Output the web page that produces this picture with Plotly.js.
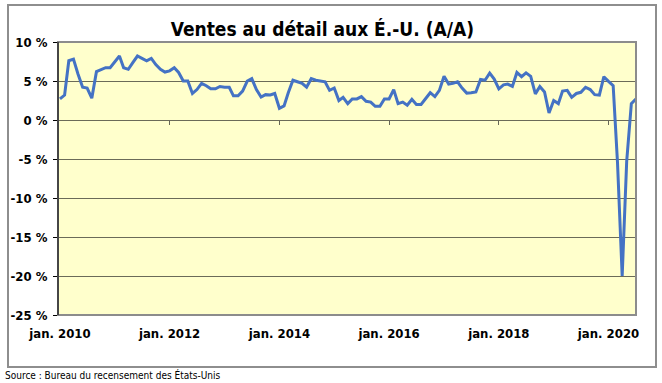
<!DOCTYPE html>
<html>
<head>
<meta charset="utf-8">
<script src="https://cdn.plot.ly/plotly-3.0.1.min.js"></script>
<style>
  html, body { margin: 0; padding: 0; background: #ffffff; }
  #wrap { position: relative; width: 662px; height: 383px; overflow: hidden; }
  #frame { position: absolute; left: 7px; top: 4px; width: 646px; height: 360px; border: 2px solid #8e8e8e; pointer-events: none; }
  #chart { position: absolute; left: 0; top: 0; width: 662px; height: 383px; }
</style>
</head>
<body>
<div id="wrap">
  <div id="frame"></div>
  <div id="chart"></div>
</div>
<script>
// ---- data ----
const startYear = 2010;
const startMonth = 1;
const retailYoY = [
  2.7, 3.2, 7.6, 7.8, 5.9, 4.2, 4.1, 2.8, 6.2, 6.4, 6.7, 6.7,
  7.4, 8.2, 6.7, 6.5, 7.35, 8.2, 7.9, 7.6, 7.9, 7.1, 6.5, 6.15,
  6.3, 6.7, 6.1, 5.0, 5.0, 3.4, 3.9, 4.7, 4.4, 4.0, 4.0, 4.3,
  4.2, 4.2, 3.1, 3.1, 3.7, 5.0, 5.3, 3.9, 2.95, 3.25, 3.2, 3.4,
  1.5, 1.8, 3.5, 5.1, 4.9, 4.7, 4.2, 5.3, 5.1, 5.0, 4.9, 3.8,
  4.1, 2.5, 2.9, 2.1, 2.7, 2.7, 3.0, 2.4, 2.3, 1.75, 1.75, 2.7,
  2.7, 3.9, 2.1, 2.3, 1.9, 2.65, 2.0, 2.0, 2.8, 3.5, 3.0, 3.8,
  5.6, 4.6, 4.7, 4.9, 4.1, 3.45, 3.5, 3.6, 5.2, 5.1, 6.0, 5.25,
  4.0, 4.5, 4.6, 4.3, 6.1, 5.55, 6.05, 5.6, 3.35, 4.3, 3.6, 0.9,
  2.5, 2.1, 3.7, 3.8, 2.9, 3.4, 3.55, 4.2, 3.9, 3.25, 3.2, 5.55,
  4.95, 4.4, -5.5, -20.0, -5.3, 2.1, 2.7
];
const xTickVals = ['2010-01-01', '2012-01-01', '2014-01-01', '2016-01-01', '2018-01-01', '2020-01-01'];
const xTickText = ['jan. 2010', 'jan. 2012', 'jan. 2014', 'jan. 2016', 'jan. 2018', 'jan. 2020'];
const zeroTickVals = ['2012-01-01', '2014-01-01', '2016-01-01', '2018-01-01', '2020-01-01'];
const yTickVals = [10, 5, 0, -5, -10, -15, -20, -25];
const yTickText = ['10 %', '5 %', '0 %', '-5 %', '-10 %', '-15 %', '-20 %', '-25 %'];
const titleText = 'Ventes au détail aux É.-U. (A/A)';
const sourceText = 'Source : Bureau du recensement des États-Unis';

// month dates (categories)
const months = retailYoY.map((_, i) => {
  const y = startYear + Math.floor((startMonth - 1 + i) / 12);
  const m = ((startMonth - 1 + i) % 12) + 1;
  return y + '-' + String(m).padStart(2, '0') + '-01';
});

const narrow = '"Liberation Sans Narrow", "Arial Narrow", "DejaVu Sans Condensed", sans-serif';
const xRange = ['2009-12-19', '2020-07-02'];
const yRange = [-25, 10];

const traces = [{
  type: 'scatter', mode: 'lines',
  x: months, y: retailYoY,
  line: { color: '#4472C4', width: 3 },
  hoverinfo: 'skip', showlegend: false
}, {
  type: 'scatter', mode: 'lines', x: [], y: [], xaxis: 'x2', yaxis: 'y',
  hoverinfo: 'skip', showlegend: false
}];

const layout = {
  width: 662, height: 383,
  margin: { l: 58, r: 26, t: 42, b: 68 },
  paper_bgcolor: 'rgba(0,0,0,0)',
  plot_bgcolor: '#FFFFCC',
  showlegend: false,
  title: {
    text: '<b>' + titleText + '</b>',
    font: { family: narrow, size: 19, color: '#000000' },
    x: 0.487, xanchor: 'center', y: 0.924, yanchor: 'middle'
  },
  xaxis: {
    type: 'date', range: xRange,
    tickvals: xTickVals, ticktext: xTickText,
    ticks: '', showgrid: false, zeroline: false,
    showline: false,
    tickfont: { family: narrow, size: 13, color: '#000000', weight: 'bold' },
    ticklabelstandoff: 9
  },
  xaxis2: {
    type: 'date', range: xRange, overlaying: 'x', anchor: 'free',
    position: 25 / 35, side: 'bottom',
    tickvals: zeroTickVals, ticks: 'outside', ticklen: 4, tickwidth: 1,
    tickcolor: '#666655', showticklabels: false, showgrid: false,
    zeroline: false, showline: false
  },
  yaxis: {
    range: yRange, tickvals: yTickVals, ticktext: yTickText,
    showgrid: true, gridcolor: '#6b6b58', gridwidth: 1,
    zeroline: false,
    showline: true, linecolor: '#000000', linewidth: 1,
    ticks: 'outside', ticklen: 4, tickcolor: '#000000', tickwidth: 1,
    tickfont: { family: narrow, size: 13, color: '#000000', weight: 'bold' },
    ticklabelstandoff: 3
  },
  shapes: [
    { type: 'rect', xref: 'paper', yref: 'paper', x0: 0, x1: 1, y0: 0, y1: 1,
      line: { color: '#8c8c8c', width: 2 }, layer: 'above' },
    { type: 'line', xref: 'paper', yref: 'paper', x0: 0, x1: 0, y0: 0, y1: 1,
      line: { color: '#000000', width: 1 }, layer: 'above' }
  ],
  annotations: [{
    text: sourceText, xref: 'paper', yref: 'paper',
    x: -0.095, xanchor: 'left', y: -0.22, yanchor: 'middle',
    showarrow: false,
    font: { family: narrow, size: 10, color: '#000000' }
  }]
};

Plotly.newPlot('chart', traces, layout, { staticPlot: true, displayModeBar: false });
</script>
</body>
</html>
